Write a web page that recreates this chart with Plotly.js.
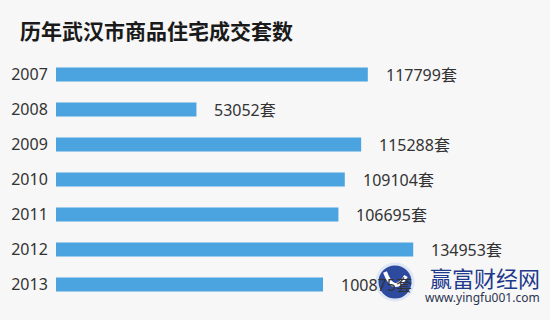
<!DOCTYPE html>
<html>
<head>
<meta charset="utf-8">
<script src="https://cdn.plot.ly/plotly-3.0.1.min.js"></script>
<style>html,body{margin:0;padding:0;background:#f7f7f7;}#chart{width:550px;height:320px;}</style>
</head>
<body>
<div id="chart"></div>
<script>
var years = ['2007', '2008', '2009', '2010', '2011', '2012', '2013'];
var deals = [117799, 53052, 115288, 109104, 106695, 134953, 100875];
var unit = '套';
var titleText = '历年武汉市商品住宅成交套数';
var watermarkName = '赢富财经网';
var watermarkUrl = 'www.yingfu001.com';

var labelFont = {family: 'Noto Sans, Noto Sans CJK SC, sans-serif', size: 16, color: '#333333'};

var annotations = years.map(function (y, i) {
  return {
    x: deals[i], y: i, xref: 'x', yref: 'y',
    text: deals[i] + unit, showarrow: false,
    xanchor: 'left', yanchor: 'middle', xshift: 16,
    font: labelFont
  };
});

annotations.push({
  xref: 'paper', yref: 'paper', x: 1, y: 0, xanchor: 'right', yanchor: 'bottom',
  xshift: -8, yshift: -6,
  text: watermarkUrl, showarrow: false,
  font: {family: 'Noto Sans, sans-serif', size: 12, color: '#2b3550'}
});
annotations.push({
  xref: 'paper', yref: 'paper', x: 1, y: 0, xanchor: 'right', yanchor: 'bottom',
  xshift: -8, yshift: 7,
  text: watermarkName, showarrow: false,
  font: {family: 'Noto Sans CJK SC, sans-serif', size: 22, color: '#1e3a8c'}
});

var data = [{
  type: 'bar',
  orientation: 'h',
  x: deals,
  y: years,
  width: 0.4,
  marker: {color: '#4ba4df'},
  hoverinfo: 'none'
}];

function px(x) { return (x - 56) / 494; }
function py(y) { return (302 - y) / 245; }

var layout = {
  width: 550, height: 320,
  paper_bgcolor: '#f7f7f7', plot_bgcolor: '#f7f7f7',
  margin: {l: 56, r: 0, t: 57, b: 18},
  showlegend: false,
  title: {
    text: '<b>' + titleText + '</b>',
    xref: 'container', yref: 'container',
    x: 20 / 550, xanchor: 'left', y: 1 - 32 / 320, yanchor: 'middle',
    font: {family: 'Noto Sans CJK SC, sans-serif', size: 21, color: '#1a1a1a'}
  },
  xaxis: {range: [0, 186630], showticklabels: false, showgrid: false, zeroline: false, showline: false, ticks: '', fixedrange: true},
  yaxis: {
    type: 'category', categoryorder: 'array', categoryarray: years,
    range: [years.length - 0.5, -0.5], autorange: false,
    showgrid: false, zeroline: false, showline: false, ticks: 'outside', ticklen: 4, tickcolor: 'rgba(0,0,0,0)',
    tickfont: labelFont, fixedrange: true
  },
  annotations: annotations,
  shapes: [{
    type: 'circle', xref: 'paper', yref: 'paper', layer: 'above',
    x0: px(377), x1: px(413), y0: py(300), y1: py(264),
    fillcolor: '#2c4a9e', line: {color: '#dfe6f5', width: 3}
  }, {
    type: 'path', xref: 'paper', yref: 'paper', layer: 'above',
    path: 'M ' + px(385) + ' ' + py(272) + ' Q ' + px(394) + ' ' + py(296) + ' ' + px(406) + ' ' + py(276),
    line: {color: '#ffffff', width: 4}
  }]
};

Plotly.newPlot('chart', data, layout, {displayModeBar: false, staticPlot: true});
</script>
</body>
</html>
